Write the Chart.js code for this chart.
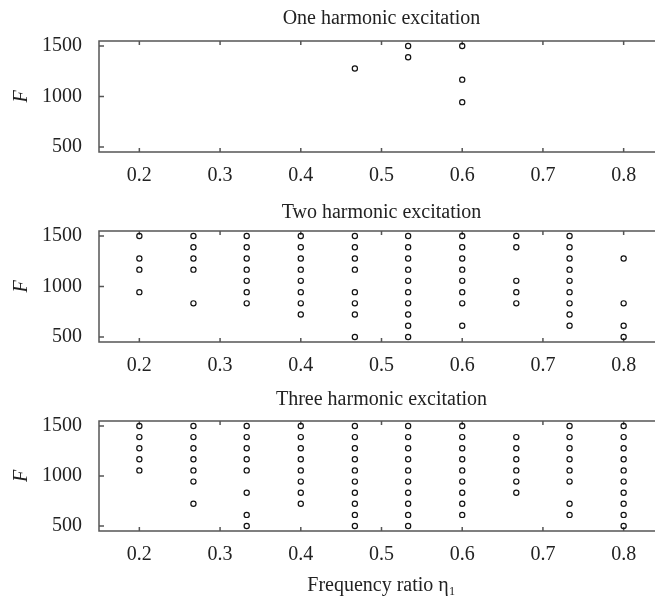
<!DOCTYPE html>
<html>
<head>
<meta charset="utf-8">
<script src="https://cdn.jsdelivr.net/npm/chart.js"></script>
<style>
  html, body { margin: 0; padding: 0; overflow: hidden; background: #fff; }
  canvas { position: absolute; left: 0; }
</style>
</head>
<body>
<canvas id="c1" width="732" height="190" style="top:0px"></canvas>
<canvas id="c2" width="732" height="190" style="top:190px"></canvas>
<canvas id="c3" width="732" height="219" style="top:380px"></canvas>
<script>
// frequency ratio of each column of runs
const etaValues = [0.2, 0.267, 0.333, 0.4, 0.467, 0.533, 0.6, 0.667, 0.733, 0.8];
const xTicks = [0.2, 0.3, 0.4, 0.5, 0.6, 0.7, 0.8];
const yTicks = [500, 1000, 1500];

// F values found in each column (same order as etaValues)
const oneHarmonic = [
  [], [], [], [],
  [1278],
  [1500, 1389],
  [1500, 1167, 944],
  [], [], []
];
const twoHarmonic = [
  [1500, 1278, 1167, 944],
  [1500, 1389, 1278, 1167, 833],
  [1500, 1389, 1278, 1167, 1056, 944, 833],
  [1500, 1389, 1278, 1167, 1056, 944, 833, 722],
  [1500, 1389, 1278, 1167, 944, 833, 722, 500],
  [1500, 1389, 1278, 1167, 1056, 944, 833, 722, 611, 500],
  [1500, 1389, 1278, 1167, 1056, 944, 833, 611],
  [1500, 1389, 1056, 944, 833],
  [1500, 1389, 1278, 1167, 1056, 944, 833, 722, 611],
  [1278, 833, 611, 500]
];
const threeHarmonic = [
  [1500, 1389, 1278, 1167, 1056],
  [1500, 1389, 1278, 1167, 1056, 944, 722],
  [1500, 1389, 1278, 1167, 1056, 833, 611, 500],
  [1500, 1389, 1278, 1167, 1056, 944, 833, 722],
  [1500, 1389, 1278, 1167, 1056, 944, 833, 722, 611, 500],
  [1500, 1389, 1278, 1167, 1056, 944, 833, 722, 611, 500],
  [1500, 1389, 1278, 1167, 1056, 944, 833, 722, 611],
  [1389, 1278, 1167, 1056, 944, 833],
  [1500, 1389, 1278, 1167, 1056, 944, 722, 611],
  [1500, 1389, 1278, 1167, 1056, 944, 833, 722, 611, 500]
];

const serif = 'Liberation Serif';
const textColor = '#222';

// box round the plot with inward ticks, like the original figure
const framePlugin = {
  id: 'frame',
  beforeDatasetsDraw(chart) {
    const { ctx, chartArea: a, scales } = chart;
    ctx.save();
    ctx.strokeStyle = '#555';
    ctx.lineWidth = 1.5;
    ctx.beginPath();
    ctx.moveTo(a.right, a.top);
    ctx.lineTo(a.left, a.top);
    ctx.lineTo(a.left, a.bottom);
    ctx.lineTo(a.right, a.bottom);
    xTicks.forEach(v => {
      const px = scales.x.getPixelForValue(v);
      ctx.moveTo(px, a.bottom); ctx.lineTo(px, a.bottom - 4);
      ctx.moveTo(px, a.top); ctx.lineTo(px, a.top + 4);
    });
    yTicks.forEach(v => {
      const py = scales.y.getPixelForValue(v);
      ctx.moveTo(a.left, py); ctx.lineTo(a.left + 5, py);
    });
    ctx.stroke();
    ctx.restore();
  }
};

function toPoints(columns) {
  const pts = [];
  columns.forEach((col, i) => {
    col.forEach(f => pts.push({ x: etaValues[i], y: f }));
  });
  return pts;
}

function makeChart(id, title, columns, last, titlePad) {
  const ctx = document.getElementById(id).getContext('2d');
  return new Chart(ctx, {
    type: 'scatter',
    data: {
      datasets: [{
        data: toPoints(columns),
        pointStyle: 'circle',
        pointRadius: 2.6,
        pointBorderWidth: 1.2,
        borderColor: '#111',
        backgroundColor: 'rgba(0,0,0,0)'
      }]
    },
    options: {
      responsive: false,
      animation: false,
      layout: { padding: { left: 0, right: 68, top: 0, bottom: 0 } },
      plugins: {
        legend: { display: false },
        tooltip: { enabled: false },
        title: {
          display: true,
          fullSize: false,
          text: title,
          color: textColor,
          font: { family: serif, size: 20, weight: 'normal' },
          padding: { top: titlePad, bottom: 17 - titlePad }
        },
        subtitle: {
          display: last,
          fullSize: false,
          position: 'bottom',
          text: 'Frequency ratio η₁',
          color: textColor,
          font: { family: serif, size: 20 },
          padding: { top: 1, bottom: 1 }
        }
      },
      scales: {
        x: {
          type: 'linear',
          min: 0.15,
          max: 0.85,
          grid: { display: false, drawTicks: false },
          border: { display: false },
          afterBuildTicks: s => { s.ticks = xTicks.map(v => ({ value: v })); },
          afterFit: s => { s.height = last ? 42 : 38; },
          ticks: {
            autoSkip: false,
            maxRotation: 0,
            padding: 12,
            color: textColor,
            font: { family: serif, size: 20 },
            callback: v => v.toFixed(1)
          }
        },
        y: {
          min: 450,
          max: 1550,
          grid: { display: false, drawTicks: false },
          border: { display: false },
          afterBuildTicks: s => { s.ticks = yTicks.map(v => ({ value: v })); },
          afterFit: s => { s.width = 99; },
          ticks: {
            padding: 17,
            color: textColor,
            font: { family: serif, size: 20 },
            callback: v => String(v)
          },
          title: {
            display: true,
            text: 'F',
            color: textColor,
            font: { family: serif, size: 20, style: 'italic' },
            padding: { top: 10, bottom: 0 }
          }
        }
      }
    },
    plugins: [framePlugin]
  });
}

makeChart('c1', 'One harmonic excitation', oneHarmonic, false, 7);
makeChart('c2', 'Two harmonic excitation', twoHarmonic, false, 11);
makeChart('c3', 'Three harmonic excitation', threeHarmonic, true, 8);
</script>
</body>
</html>
